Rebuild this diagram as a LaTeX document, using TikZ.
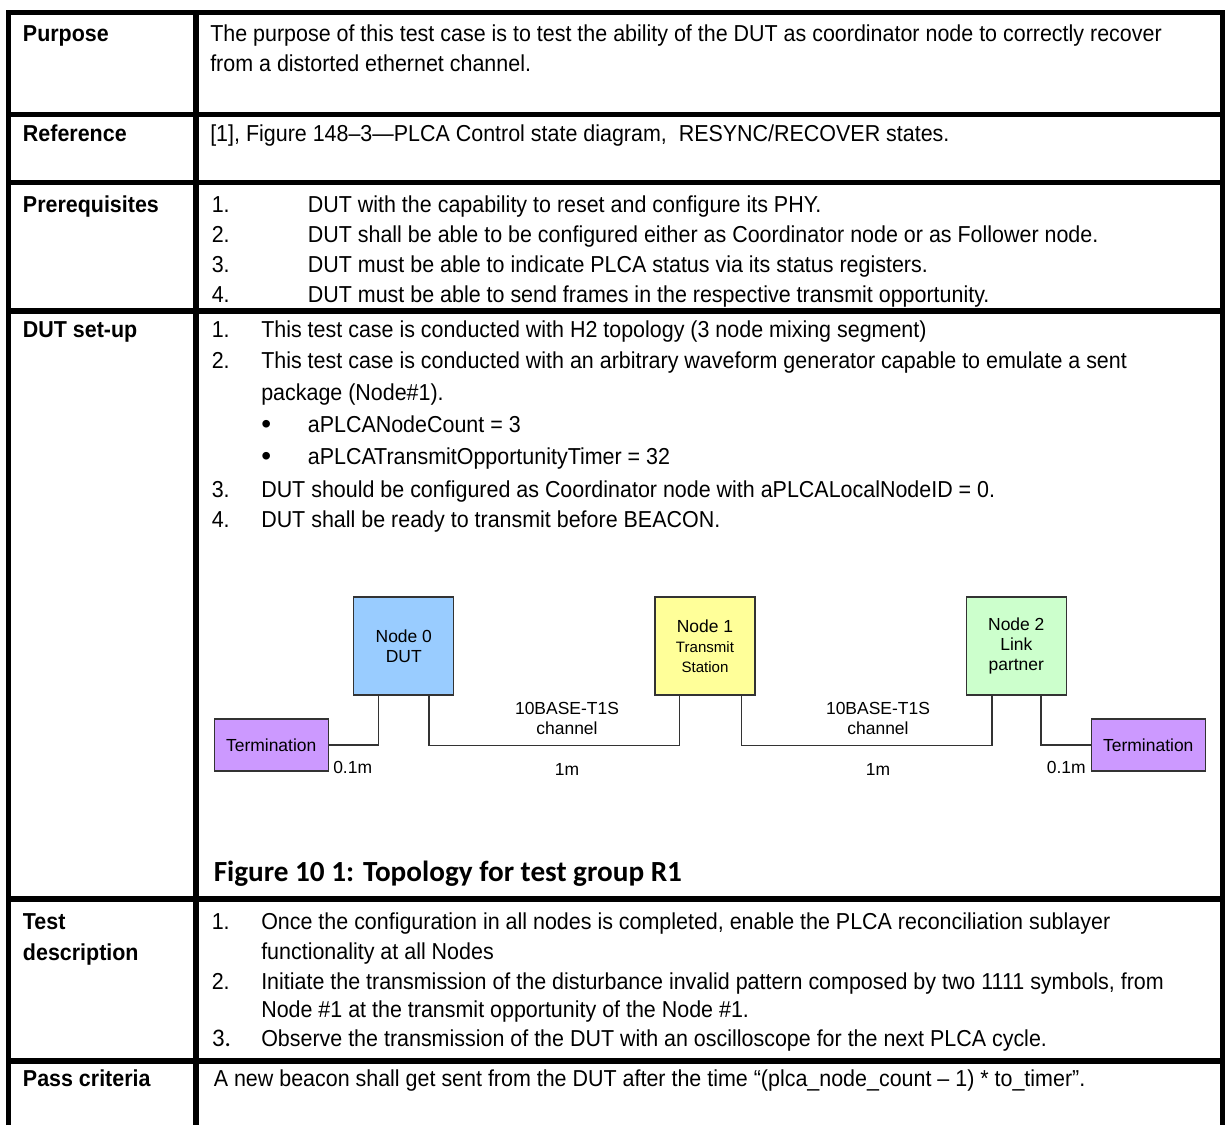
\documentclass[tikz,border=0pt]{standalone}
\usepackage{fontspec}
\setmainfont{Liberation Sans}
\newfontfamily\tabfam[FakeStretch=0.93]{Liberation Sans}
\newfontfamily\capfont{Carlito}
\usetikzlibrary{calc}
\newcommand\tabsize{\tabfam\fontsize{17.3}{20}\selectfont}
\newcommand\dgsize{\fontsize{13.1}{15}\selectfont}
\newcommand\dgsmall{\fontsize{11.3}{15}\selectfont}
\definecolor{nblue}{HTML}{99CCFF}
\definecolor{nyellow}{HTML}{FFFF99}
\definecolor{ngreen}{HTML}{CCFFCC}
\definecolor{tpurple}{HTML}{CC99FF}
\definecolor{edge}{HTML}{333333}
\tikzset{
  lab/.style={anchor=base west, inner sep=0pt, font=\tabsize\bfseries},
  txt/.style={anchor=base west, inner sep=0pt, font=\tabsize},
  bul/.style={anchor=base west, inner sep=0pt, font=\fontsize{21}{20}\selectfont},
  rule/.style={line width=4pt, black},
  nodebox/.style={draw=edge, line width=0.8pt, minimum width=75pt, minimum height=73.5pt, inner sep=0pt, align=center, font=\dgsize},
  termbox/.style={draw=edge, line width=0.8pt, fill=tpurple, minimum width=85.5pt, minimum height=39pt, inner sep=0pt, font=\dgsize},
  wire/.style={draw=edge, line width=1pt},
  dlabel/.style={font=\dgsize, align=center, inner sep=0pt}
}
\begin{document}
\begin{tikzpicture}[x=0.75pt,y=-0.75pt]
\useasboundingbox (0,0) rectangle (1225,1125);
% table rules
\draw[rule] (8.3,1125) -- (8.3,12.5) -- (1222.3,12.5) -- (1222.3,1125);
\draw[rule] (196,12.5) -- (196,1125);
\foreach \yy in {114.5,182.5,311,899,1061}
  \draw[rule] (8.3,\yy) -- (1222.3,\yy);
% Purpose
\node[lab] (lpurp) at (22.7,41) {Purpose};
\node[txt] (purp1) at (210,41) {The purpose of this test case is to test the ability of the DUT as coordinator node to correctly recover};
\node[txt] (purp2) at (210,71) {from a distorted ethernet channel.};
% Reference
\node[lab] (lref) at (22.7,141.5) {Reference};
\node[txt] (ref1) at (210,141.5) {[1], Figure 148–3—PLCA Control state diagram,\ \ RESYNC/RECOVER states.};
% Prerequisites
\node[lab] (lpre) at (22.7,212) {Prerequisites};
\node[txt] (pn1) at (211.5,212) {1.};
\node[txt] (pt1) at (307.6,212) {DUT with the capability to reset and configure its PHY.};
\node[txt] (pn2) at (211.5,242) {2.};
\node[txt] (pt2) at (307.6,242) {DUT shall be able to be configured either as Coordinator node or as Follower node.};
\node[txt] (pn3) at (211.5,272) {3.};
\node[txt] (pt3) at (307.6,272) {DUT must be able to indicate PLCA status via its status registers.};
\node[txt] (pn4) at (211.5,302) {4.};
\node[txt] (pt4) at (307.6,302) {DUT must be able to send frames in the respective transmit opportunity.};
% DUT set-up
\node[lab] (ldut) at (22.7,337.5) {DUT set-up};
\node[txt] (dn1) at (211.5,337.5) {1.};
\node[txt] (dt1) at (261,337.5) {This test case is conducted with H2 topology (3 node mixing segment)};
\node[txt] (dn2) at (211.5,368.5) {2.};
\node[txt] (dt2) at (261,368.5) {This test case is conducted with an arbitrary waveform generator capable to emulate a sent};
\node[txt] (dt2b) at (261,400.5) {package (Node\#1).};
\node[bul] (db1) at (261,433) {•};
\node[txt] (dbt1) at (307.6,432) {aPLCANodeCount = 3};
\node[bul] (db2) at (261,465) {•};
\node[txt] (dbt2) at (307.6,464) {aPLCATransmitOpportunityTimer = 32};
\node[txt] (dn3) at (211.5,497) {3.};
\node[txt] (dt3) at (261,497) {DUT should be configured as Coordinator node with aPLCALocalNodeID = 0.};
\node[txt] (dn4) at (211.5,527) {4.};
\node[txt] (dt4) at (261,527) {DUT shall be ready to transmit before BEACON.};
% topology diagram
\node[nodebox, fill=nblue] (n0) at (403.8,646) {Node 0\\DUT};
\node[nodebox, fill=nyellow] (n1) at (705,646) {Node 1\\{\dgsmall Transmit}\\{\dgsmall Station}};
\node[nodebox, fill=ngreen] (n2) at (1016.3,646) {Node 2\\Link\\partner};
\node[termbox] (tl) at (271.2,745) {Termination};
\node[termbox] (tr) at (1148.3,745) {Termination};
\draw[wire] (tl.east) -| ($(n0.south west)!0.25!(n0.south east)$);
\draw[wire] ($(n0.south west)!0.75!(n0.south east)$) -- ++(0,50) -| ($(n1.south west)!0.25!(n1.south east)$);
\draw[wire] ($(n1.south west)!0.86!(n1.south east)$) -- ++(0,50) -| ($(n2.south west)!0.26!(n2.south east)$);
\draw[wire] ($(n2.south west)!0.745!(n2.south east)$) |- (tr.west);
\node[dlabel] (ch1) at (567,718) {10BASE-T1S\\channel};
\node[dlabel] (ch2) at (878,718) {10BASE-T1S\\channel};
\node[dlabel] (len1) at (567,769) {1m};
\node[dlabel] (len2) at (878,769) {1m};
\node[dlabel, anchor=west] (s1) at (333,767) {0.1m};
\node[dlabel, anchor=east] (s2) at (1086,767) {0.1m};
% caption
\node[anchor=base west, inner sep=0pt, font=\capfont\bfseries\fontsize{21.9}{24}\selectfont] (cap) at (213.5,881) {Figure 10 1: Topology for test group R1};
% Test description
\node[lab] (ltest) at (22.7,929.5) {Test};
\node[lab] (ltest2) at (22.7,960.5) {description};
\node[txt] (tn1) at (211.5,929.5) {1.};
\node[txt] (tt1) at (261,929.5) {Once the configuration in all nodes is completed, enable the PLCA reconciliation sublayer};
\node[txt] (tt1b) at (261,959.5) {functionality at all Nodes};
\node[txt] (tn2) at (211.5,989.5) {2.};
\node[txt] (tt2) at (261,989.5) {Initiate the transmission of the disturbance invalid pattern composed by two 1111 symbols, from};
\node[txt] (tt2b) at (261,1017.5) {Node \#1 at the transmit opportunity of the Node \#1.};
\node[txt, font=\capfont\fontsize{19}{20}\selectfont] (tn3) at (211.5,1046.5) {3.};
\node[txt] (tt3) at (261,1046.5) {Observe the transmission of the DUT with an oscilloscope for the next PLCA cycle.};
% Pass criteria
\node[lab] (lpass) at (22.7,1086.5) {Pass criteria};
\node[txt] (pass1) at (213.5,1086.5) {A new beacon shall get sent from the DUT after the time “(plca\_node\_count – 1) * to\_timer”.};
\end{tikzpicture}
\end{document}
